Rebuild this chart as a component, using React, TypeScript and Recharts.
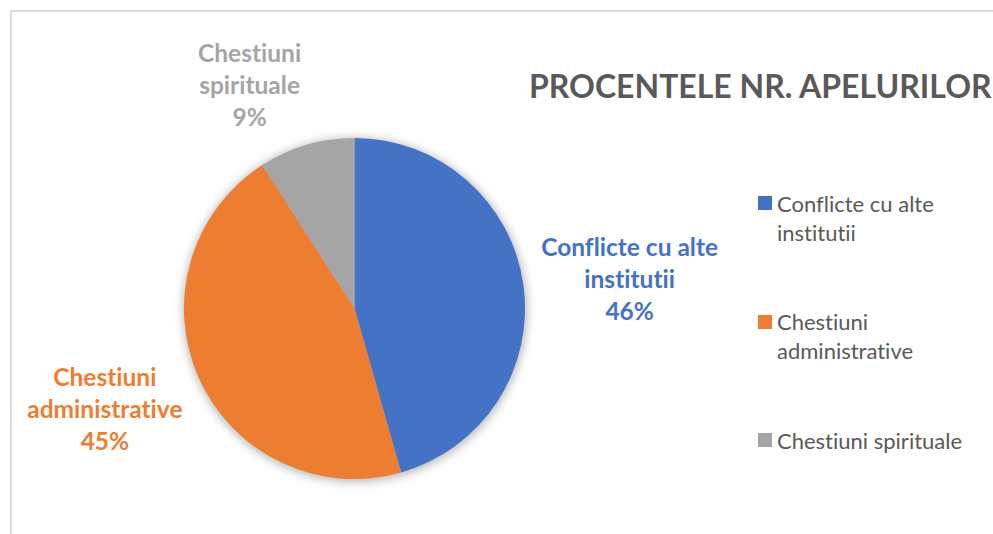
import React from 'react';
import { PieChart, Pie, Cell, Legend } from 'recharts';

const categories = ['Conflicte cu alte institutii', 'Chestiuni administrative', 'Chestiuni spirituale'];
const labelLines = [['Conflicte cu alte', 'institutii'], ['Chestiuni', 'administrative'], ['Chestiuni', 'spirituale']];
const legendLines = [['Conflicte cu alte', 'institutii'], ['Chestiuni', 'administrative'], ['Chestiuni spirituale']];
const values = [45.6, 45.3, 9.1];
const colors = ['#4472C4', '#ED7D31', '#A5A5A5'];
const title = 'PROCENTELE NR. APELURILOR';

const data = categories.map((name, i) => ({ name, value: values[i] }));

const FONT = 'Lato, "Open Sans", sans-serif';
const RAD = Math.PI / 180;
const LABEL_SIZE = 24.5;

let measureCtx: CanvasRenderingContext2D | null = null;
const measure = (s: string) => {
  if (!measureCtx && typeof document !== 'undefined') {
    measureCtx = document.createElement('canvas').getContext('2d');
  }
  if (!measureCtx) return s.length * LABEL_SIZE * 0.52;
  measureCtx.font = `700 ${LABEL_SIZE}px Lato`;
  return measureCtx.measureText(s).width;
};

const renderLabel = (props: any) => {
  const { cx, cy, midAngle, outerRadius, percent, index } = props;
  const cos = Math.cos(midAngle * RAD);
  const sinScreen = -Math.sin(midAngle * RAD);
  const lines = [...labelLines[index], `${Math.round(percent * 100)}%`];
  const w = Math.max(...lines.map(measure));
  const lh = 32;
  const h = lines.length * lh;
  const r = outerRadius + 18;
  const px = cx + r * cos;
  const py = cy + r * sinScreen;
  const bx = px + (Math.sign(cos) * w) / 2;
  const by = py + (sinScreen * h) / 2 + 3;
  return (
    <text
      x={bx}
      y={by}
      textAnchor="middle"
      fill={colors[index]}
      style={{ fontFamily: FONT, fontWeight: 700, fontSize: LABEL_SIZE, fontVariantLigatures: 'none' }}
    >
      {lines.map((l, i) => (
        <tspan key={i} x={bx} y={by + (i - (lines.length - 1) / 2) * lh} dominantBaseline="central">
          {l}
        </tspan>
      ))}
    </text>
  );
};

const LegendContent = () => (
  <div style={{ fontFamily: FONT, fontSize: 22, color: '#595959', fontVariantLigatures: 'none' }}>
    {categories.map((c, i) => (
      <div key={c} style={{ display: 'flex', alignItems: 'flex-start', height: 118.5 }}>
        <div style={{ width: 14, height: 14, background: colors[i], marginTop: 7.5, marginRight: 5, flexShrink: 0 }} />
        <div style={{ lineHeight: '29px', whiteSpace: 'nowrap' }}>
          {legendLines[i].map((l, k) => (
            <div key={k}>{l}</div>
          ))}
        </div>
      </div>
    ))}
  </div>
);

export default function App() {
  return (
    <div style={{ position: 'absolute', left: 0, top: 0, width: 993, height: 534, background: '#fff', overflow: 'hidden' }}>
      <style>{`.pie-shadow path { filter: blur(5px); }`}</style>
      <div
        style={{
          position: 'absolute',
          left: 10,
          top: 10,
          width: 1100,
          height: 700,
          borderLeft: '2px solid #dadada',
          borderTop: '2px solid #dadada',
        }}
      />
      <div
        style={{
          position: 'absolute',
          left: 529,
          top: 66,
          fontFamily: FONT,
          fontWeight: 700,
          fontSize: 32,
          color: '#595959',
          whiteSpace: 'nowrap',
          lineHeight: '40px',
          fontVariantLigatures: 'none',
        }}
      >
        {title}
      </div>
      <div style={{ position: 'absolute', left: 0, top: 0 }}>
        <PieChart width={993} height={534} margin={{ top: 0, right: 0, bottom: 0, left: 0 }}>
          <Pie
            className="pie-shadow"
            data={data}
            dataKey="value"
            nameKey="name"
            cx={355}
            cy={310}
            outerRadius={172}
            startAngle={90}
            endAngle={-270}
            stroke="none"
            isAnimationActive={false}
            legendType="none"
            label={false}
          >
            {data.map((d) => (
              <Cell key={d.name} fill="rgba(0,0,0,0.28)" />
            ))}
          </Pie>
          <Pie
            data={data}
            dataKey="value"
            nameKey="name"
            cx={354.5}
            cy={308.5}
            outerRadius={170.5}
            startAngle={90}
            endAngle={-270}
            stroke="none"
            isAnimationActive={false}
            label={renderLabel}
            labelLine={false}
          >
            {data.map((d, i) => (
              <Cell key={d.name} fill={colors[i]} />
            ))}
          </Pie>
          <Legend
            content={<LegendContent />}
            wrapperStyle={{ position: 'absolute', left: 758, top: 188.5, width: 230, right: 'auto', bottom: 'auto' }}
          />
        </PieChart>
      </div>
    </div>
  );
}
